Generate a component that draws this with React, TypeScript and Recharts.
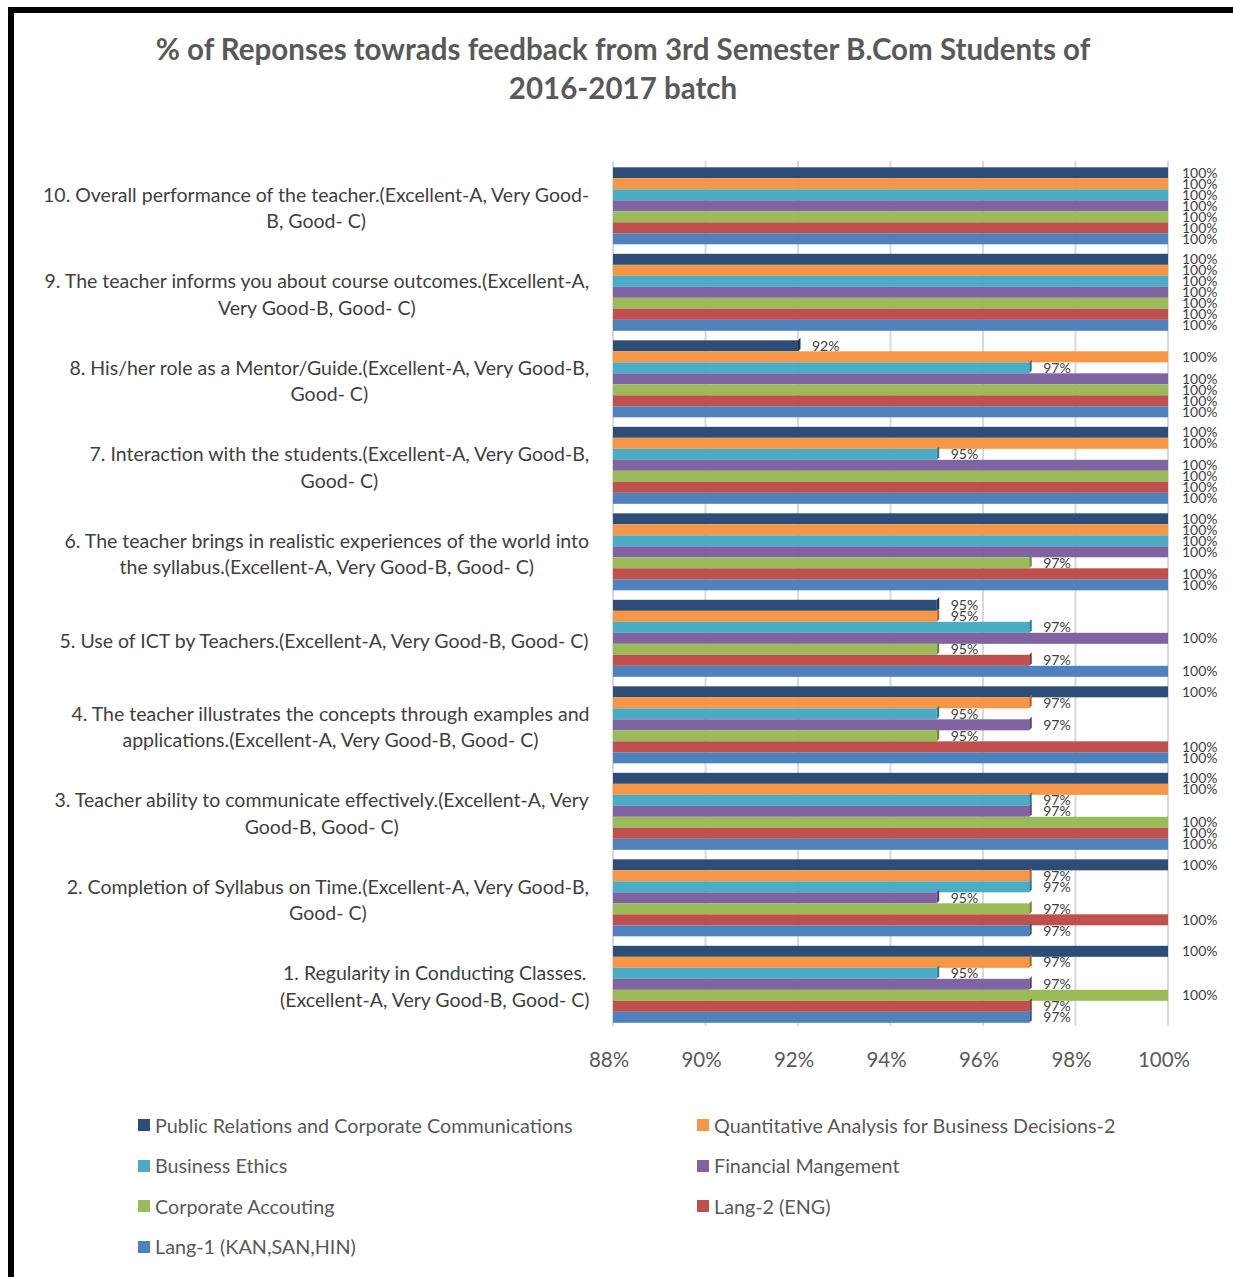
import React from "react";
import { BarChart, Bar, XAxis, YAxis, CartesianGrid, LabelList } from "recharts";

const categories = [
  "1. Regularity in Conducting Classes.\n(Excellent-A, Very Good-B, Good- C)",
  "2. Completion of Syllabus on Time.(Excellent-A, Very Good-B,\nGood- C)",
  "3. Teacher ability to communicate effectively.(Excellent-A, Very\nGood-B, Good- C)",
  "4. The teacher illustrates the concepts through examples and\napplications.(Excellent-A, Very Good-B, Good- C)",
  "5. Use of ICT by Teachers.(Excellent-A, Very Good-B, Good- C)",
  "6. The teacher brings in realistic experiences of the world into\nthe syllabus.(Excellent-A, Very Good-B, Good- C)",
  "7. Interaction with the students.(Excellent-A, Very Good-B,\nGood- C)",
  "8. His/her role as a Mentor/Guide.(Excellent-A, Very Good-B,\nGood- C)",
  "9. The teacher informs you about course outcomes.(Excellent-A,\nVery Good-B, Good- C)",
  "10. Overall performance of the teacher.(Excellent-A, Very Good-\nB, Good- C)",
];

const publicRelations = [100, 100, 100, 100, 95, 100, 100, 92, 100, 100];
const quantitative = [97, 97, 100, 97, 95, 100, 100, 100, 100, 100];
const businessEthics = [95, 97, 97, 95, 97, 100, 95, 97, 100, 100];
const financial = [97, 95, 97, 97, 100, 100, 100, 100, 100, 100];
const corporateAcc = [100, 97, 100, 95, 95, 97, 100, 100, 100, 100];
const lang2 = [97, 100, 100, 100, 97, 100, 100, 100, 100, 100];
const lang1 = [97, 97, 100, 100, 100, 100, 100, 100, 100, 100];

const xTicks = [88, 90, 92, 94, 96, 98, 100];

const series = [
  { key: "pr", name: "Public Relations and Corporate Communications", values: publicRelations, color: "#2C4D75", dark: "#1F3653" },
  { key: "qa", name: "Quantitative Analysis for Business Decisions-2", values: quantitative, color: "#F79646", dark: "#B86A2C" },
  { key: "be", name: "Business Ethics", values: businessEthics, color: "#4BACC6", dark: "#2F7F94" },
  { key: "fm", name: "Financial Mangement", values: financial, color: "#8064A2", dark: "#5A4575" },
  { key: "ca", name: "Corporate Accouting", values: corporateAcc, color: "#9BBB59", dark: "#6E8A38" },
  { key: "l2", name: "Lang-2 (ENG)", values: lang2, color: "#C0504D", dark: "#8C3532" },
  { key: "l1", name: "Lang-1 (KAN,SAN,HIN)", values: lang1, color: "#4F81BD", dark: "#345E8F" },
];

const data = categories.map((name, i) => {
  const row: any = { name };
  series.forEach((s) => (row[s.key] = s.values[i]));
  return row;
});

const FONT = "Lato, 'Open Sans', sans-serif";
const LABEL_SIZE = 19.5;
const LINE_H = 26.5;

let canvasCtx: CanvasRenderingContext2D | null = null;
function measure(text: string, size: number): number {
  if (typeof document === "undefined") return text.length * size * 0.5;
  if (!canvasCtx) canvasCtx = document.createElement("canvas").getContext("2d");
  if (!canvasCtx) return text.length * size * 0.5;
  canvasCtx.font = `${size}px Lato`;
  return canvasCtx.measureText(text).width;
}

const YTick = (props: any) => {
  const { x, y, payload } = props;
  const lines = String(payload.value).split("\n");
  const maxW = Math.max(...lines.map((l) => measure(l, LABEL_SIZE)));
  const right = x - 23;
  const cx = right - maxW / 2;
  const startY = y + 4 - ((lines.length - 1) * LINE_H) / 2;
  return (
    <g>
      {lines.map((l, i) => (
        <text
          key={i}
          x={cx}
          y={startY + i * LINE_H}
          dy="0.35em"
          textAnchor="middle"
          fontSize={LABEL_SIZE}
          fontFamily={FONT}
          fill="#404040"
        >
          {l}
        </text>
      ))}
    </g>
  );
};

const makeShape = (dark: string) => (props: any) => {
  const { x, y, width, height, fill } = props;
  if (width == null || width <= 0) return null;
  const d = 2.5;
  return (
    <g>
      <rect x={x} y={y} width={width} height={height} fill={fill} />
      <polygon
        points={`${x + width},${y} ${x + width + d},${y - d} ${x + width + d},${y + height - d} ${x + width},${y + height}`}
        fill={dark}
      />
    </g>
  );
};

export default function App() {
  return (
    <div style={{ position: "fixed", left: 0, top: 0, width: 1233, height: 1277, background: "#fff", overflow: "hidden" }}>
      <div
        style={{
          position: "absolute",
          left: 8,
          top: 7,
          width: 1400,
          height: 1400,
          border: "6px solid #000",
          boxSizing: "border-box",
        }}
      />
      <div
        style={{
          position: "absolute",
          left: 0,
          top: 29,
          width: 1246,
          textAlign: "center",
          fontFamily: FONT,
          fontWeight: 700,
          fontSize: 29.5,
          lineHeight: "39px",
          color: "#595959",
        }}
      >
        % of Reponses towrads feedback from 3rd Semester B.Com Students of
        <br />
        2016-2017 batch
      </div>
      <div style={{ position: "absolute", left: 0, top: 0 }}>
        <BarChart
          width={1233}
          height={1277}
          data={data}
          layout="vertical"
          margin={{ top: 161, right: 65, bottom: 201, left: 0 }}
          barCategoryGap="7.3%"
          barGap={0}
        >
          <CartesianGrid horizontal={false} stroke="#D9D9D9" strokeWidth={2} />
          <XAxis
            type="number"
            domain={[88, 100]}
            ticks={xTicks}
            tickFormatter={(v: number) => `${v}%`}
            height={50}
            tickSize={0}
            tickMargin={26}
            axisLine={false}
            tickLine={false}
            tick={{ fontSize: 20.5, fontFamily: FONT, fill: "#595959", dx: -4 }}
            allowDataOverflow
          />
          <YAxis
            type="category"
            dataKey="name"
            reversed
            width={613}
            tickSize={0}
            tickMargin={0}
            axisLine={false}
            tickLine={false}
            interval={0}
            tick={<YTick />}
          />
          {series.map((s) => (
            <Bar
              key={s.key}
              dataKey={s.key}
              name={s.name}
              fill={s.color}
              isAnimationActive={false}
              shape={makeShape(s.dark)}
            >
              <LabelList
                dataKey={s.key}
                position="right"
                offset={14}
                formatter={(v: any) => `${v}%`}
                style={{ fontSize: 14, fontFamily: FONT, fill: "#404040" }}
              />
            </Bar>
          ))}
        </BarChart>
      </div>
      <div style={{ position: "absolute", left: 0, top: 0, fontFamily: FONT, fontSize: 19.75, color: "#595959" }}>
        {series.map((s, i) => {
          const col = i % 2;
          const row = Math.floor(i / 2);
          return (
            <div
              key={s.key}
              style={{
                position: "absolute",
                left: col === 0 ? 138 : 697,
                top: 1125 + row * 40.5 - 12,
                height: 24,
                display: "flex",
                alignItems: "center",
                whiteSpace: "nowrap",
              }}
            >
              <span style={{ display: "inline-block", width: 12, height: 12, background: s.color, marginRight: 5 }} />
              <span>{s.name}</span>
            </div>
          );
        })}
      </div>
    </div>
  );
}
